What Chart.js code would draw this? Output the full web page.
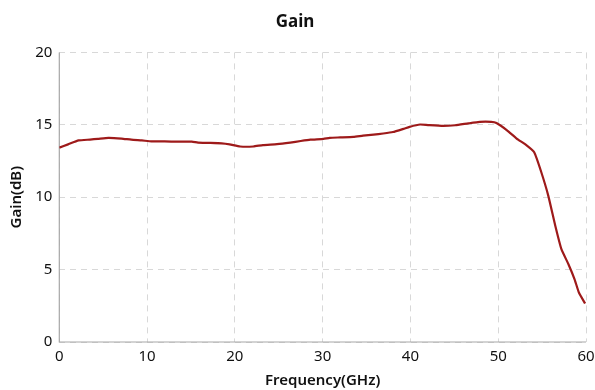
<!DOCTYPE html>
<html>
<head>
<meta charset="utf-8">
<title>Gain</title>
<script src="https://cdn.jsdelivr.net/npm/chart.js@4.4.0/dist/chart.umd.min.js"></script>
<style>
    html, body { margin: 0; padding: 0; background: #fff; }
    #wrap { width: 595px; height: 390px; }
</style>
</head>
<body>
<div id="wrap"><canvas id="chart"></canvas></div>
<script>
var freq = [0, 1, 2.2, 3.5, 4.4, 5.6, 7.1, 8.2, 9.4, 10.5, 12, 13.5, 15.1, 15.8, 17, 18.5, 19.4, 20.6, 22.1, 23.2, 24.8, 26.3, 27.5, 28.6, 30.1, 30.8, 32, 33.5, 34.6, 35.8, 36.9, 38, 39.2, 39.9, 41.1, 42, 43.7, 45.1, 46.6, 47.9, 49.2, 49.8, 51, 52.1, 53.2, 54.1, 54.9, 55.7, 56.5, 57.2, 58, 58.7, 59.2, 59.9];
var gain = [13.42, 13.65, 13.92, 13.98, 14.03, 14.1, 14.05, 13.97, 13.92, 13.86, 13.85, 13.84, 13.84, 13.77, 13.75, 13.72, 13.65, 13.5, 13.5, 13.6, 13.66, 13.77, 13.88, 13.97, 14.03, 14.1, 14.13, 14.17, 14.25, 14.32, 14.4, 14.5, 14.72, 14.86, 15.02, 14.98, 14.92, 14.97, 15.1, 15.2, 15.2, 15.12, 14.62, 14.05, 13.6, 13.1, 11.74, 10.11, 8.03, 6.41, 5.37, 4.33, 3.4, 2.66];
var xTicks = [0, 10, 20, 30, 40, 50, 60];
var yTicks = [0, 5, 10, 15, 20];

var points = [];
for (var i = 0; i < freq.length; i++) {
    points.push({x: freq[i], y: gain[i]});
}

var fontFamily = '"Noto Sans", "Open Sans", sans-serif';
var gridColor = '#d8d8d8';
var axisColor = '#a8a8a8';
var textColor = '#111';

var chart = new Chart(document.getElementById('chart').getContext('2d'), {
    type: 'line',
    data: {
        datasets: [
            {
                label: 'Gain',
                data: points,
                borderColor: '#9e1a1a',
                borderWidth: 2.2,
                pointRadius: 0,
                tension: 0.15,
                fill: false
            }
        ]
    },
    options: {
        responsive: true,
        maintainAspectRatio: false,
        animation: false,
        layout: {
            padding: {top: 8, right: 9, bottom: 0, left: 4}
        },
        plugins: {
            legend: {display: false},
            tooltip: {enabled: false},
            title: {
                display: true,
                text: 'Gain',
                color: textColor,
                font: {family: fontFamily, size: 17, weight: 'bold'},
                padding: {top: 4, bottom: 20}
            }
        },
        scales: {
            x: {
                type: 'linear',
                min: 0,
                max: 60,
                afterBuildTicks: function (axis) {
                    axis.ticks = xTicks.map(function (v) { return {value: v}; });
                },
                afterFit: function (axis) {
                    axis.height = 48;
                    axis.paddingLeft = 0;
                    axis.paddingRight = 0;
                },
                grid: {
                    color: gridColor,
                    drawTicks: false
                },
                border: {
                    display: false,
                    dash: [6, 5]
                },
                ticks: {
                    color: textColor,
                    padding: 6,
                    maxRotation: 0,
                    font: {family: fontFamily, size: 15}
                },
                title: {
                    display: true,
                    text: 'Frequency(GHz)',
                    color: textColor,
                    padding: {top: 2, bottom: 0},
                    font: {family: fontFamily, size: 15, weight: '600'}
                }
            },
            y: {
                min: 0,
                max: 20,
                afterBuildTicks: function (axis) {
                    axis.ticks = yTicks.map(function (v) { return {value: v}; });
                },
                afterFit: function (axis) {
                    axis.width = 55.3;
                },
                grid: {
                    color: gridColor,
                    drawTicks: false
                },
                border: {
                    display: false,
                    dash: [6, 5]
                },
                ticks: {
                    color: textColor,
                    padding: 7,
                    font: {family: fontFamily, size: 15}
                },
                title: {
                    display: true,
                    text: 'Gain(dB)',
                    color: textColor,
                    padding: {top: 4, bottom: 4},
                    font: {family: fontFamily, size: 15, weight: '600'}
                }
            }
        }
    },
    plugins: [
        {
            // solid axis lines on the left and bottom
            id: 'axisLines',
            beforeDatasetsDraw: function (c) {
                var ctx = c.ctx;
                var a = c.chartArea;
                ctx.save();
                ctx.strokeStyle = axisColor;
                ctx.lineWidth = 1.2;
                ctx.beginPath();
                ctx.moveTo(a.left, a.top);
                ctx.lineTo(a.left, a.bottom);
                ctx.lineTo(a.right, a.bottom);
                ctx.stroke();
                ctx.restore();
            }
        }
    ]
});
</script>
</body>
</html>
